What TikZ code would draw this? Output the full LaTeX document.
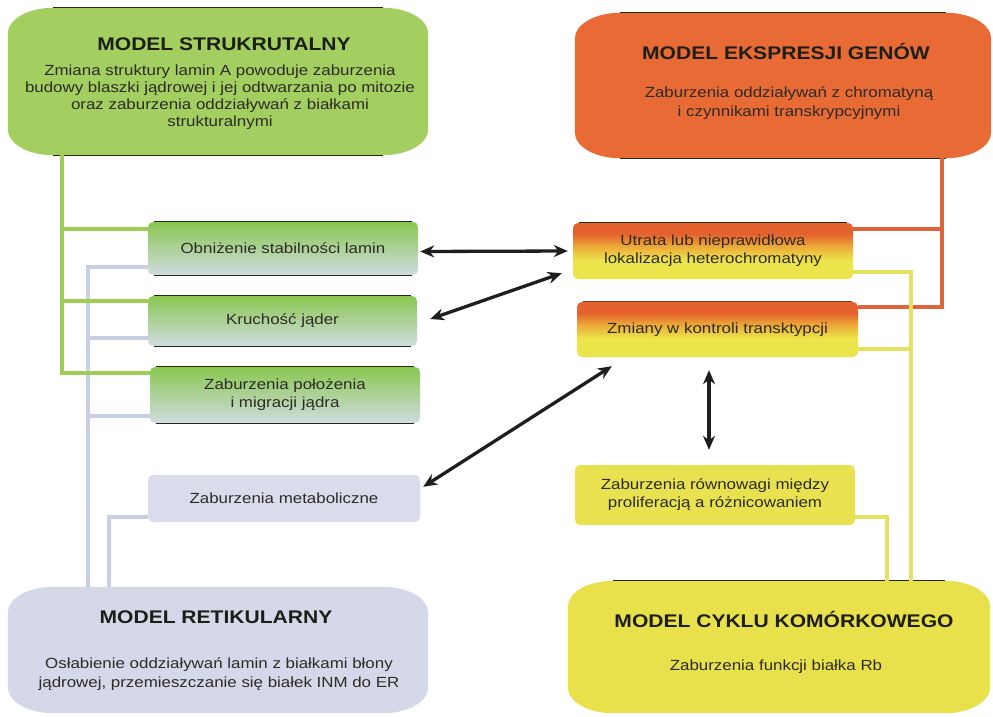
\documentclass[tikz,border=0pt]{standalone}
\usepackage{fontspec}
\setmainfont{Liberation Sans}[FakeStretch=1.15]
\usetikzlibrary{arrows.meta}

\definecolor{strC}{RGB}{163,206,96}
\definecolor{eksC}{RGB}{232,106,52}
\definecolor{retC}{RGB}{213,216,232}
\definecolor{cykC}{RGB}{232,225,75}
\definecolor{gTop}{RGB}{138,199,80}
\definecolor{gBot}{RGB}{208,220,224}
\definecolor{metC}{RGB}{218,220,236}
\definecolor{rowC}{RGB}{232,225,80}
\definecolor{orgC}{RGB}{228,98,45}
\definecolor{midC}{RGB}{236,165,55}
\definecolor{ylwC}{RGB}{236,228,75}
\definecolor{glineC}{RGB}{158,206,84}
\definecolor{rlineC}{RGB}{202,206,226}
\definecolor{olineC}{RGB}{224,100,55}
\definecolor{ylineC}{RGB}{230,225,95}
\definecolor{arrC}{RGB}{30,30,30}
\definecolor{txtC}{RGB}{45,43,38}
\definecolor{ttlC}{RGB}{30,30,25}
\definecolor{edgeC}{RGB}{40,40,25}

\pgfdeclareverticalshading{oyshade}{100bp}{color(0bp)=(ylwC); color(42bp)=(ylwC); color(55bp)=(midC); color(65bp)=(orgC); color(100bp)=(orgC)}

\newcommand{\bodyf}{\fontsize{14.7pt}{18pt}\selectfont}
\newcommand{\titlef}{\fontsize{18.3pt}{22pt}\selectfont\bfseries}
\newcommand{\ellbox}[2]{%
  \path[#2] ([xshift=45pt]#1.north west) -- ([xshift=-45pt]#1.north east)
    arc[start angle=90,end angle=0,x radius=45pt,y radius=26pt]
    -- ([yshift=26pt]#1.south east)
    arc[start angle=0,end angle=-90,x radius=45pt,y radius=26pt]
    -- ([xshift=45pt]#1.south west)
    arc[start angle=270,end angle=180,x radius=45pt,y radius=26pt]
    -- ([yshift=-26pt]#1.north west)
    arc[start angle=180,end angle=90,x radius=45pt,y radius=26pt] -- cycle;}

\begin{document}
\begin{tikzpicture}[x=1pt,y=-1pt,
  bigbox/.style={inner sep=0pt, draw=none},
  sbox/.style={rounded corners=5pt, inner sep=0pt, align=center, font=\bodyf, text=txtC},
  gbox/.style={sbox, top color=gTop, bottom color=gBot},
  obox/.style={sbox, shading=oyshade},
  txt/.style={inner sep=0pt, align=center, text=txtC},
  ttl/.style={inner sep=0pt, text=ttlC, font=\titlef},
  gline/.style={draw=glineC, line width=3.5pt},
  rline/.style={draw=rlineC, line width=3.5pt},
  oline/.style={draw=olineC, line width=3.5pt},
  yline/.style={draw=ylineC, line width=3.5pt},
  edgeline/.style={draw=edgeC, line width=1.3pt},
  arr/.style={draw=arrC, line width=3.3pt, {Stealth[length=14pt,width=12pt]}-{Stealth[length=14pt,width=12pt]}}
]
\useasboundingbox (0,0) rectangle (993,716);
\fill[white] (0,0) rectangle (993,716);

% big boxes
\node[bigbox, minimum width=420pt, minimum height=147pt] (str) at (218,81.5) {};
\node[bigbox, minimum width=416pt, minimum height=145pt] (eks) at (783,85.5) {};
\node[bigbox, minimum width=420pt, minimum height=126pt] (ret) at (218,650) {};
\node[bigbox, minimum width=422pt, minimum height=132pt] (cyk) at (779,647) {};
\ellbox{str}{fill=strC}
\ellbox{eks}{fill=eksC}
\ellbox{ret}{fill=retC}
\ellbox{cyk}{fill=cykC}
\draw[edgeline] ([xshift=45pt]str.north west) -- ([xshift=-45pt]str.north east);
\draw[edgeline] ([xshift=45pt]str.south west) -- ([xshift=-45pt]str.south east);
\draw[edgeline] ([xshift=45pt]eks.north west) -- ([xshift=-45pt]eks.north east);
\draw[edgeline] ([xshift=45pt]eks.south west) -- ([xshift=-45pt]eks.south east);
\draw[edgeline] ([xshift=45pt]cyk.north west) -- ([xshift=-45pt]cyk.north east);

% small boxes
\node[gbox, minimum width=270pt, minimum height=53pt] (obn) at (283,248.5) {Obniżenie stabilności lamin};
\node[gbox, minimum width=269pt, minimum height=50pt] (kru) at (282.5,321) {Kruchość jąder};
\node[gbox, minimum width=270pt, minimum height=56pt] (pol) at (285,395) {Zaburzenia położenia\\i migracji jądra};
\node[sbox, fill=metC, minimum width=272pt, minimum height=47pt] (met) at (284,498.5) {Zaburzenia metaboliczne};
\node[obox, minimum width=280pt, minimum height=56pt] (utr) at (713,251) {Utrata lub nieprawidłowa\\lokalizacja heterochromatyny};
\node[obox, minimum width=281pt, minimum height=55pt] (zmi) at (717.5,329.5) {Zmiany w kontroli transktypcji};
\node[sbox, fill=rowC, minimum width=280pt, minimum height=60pt] (row) at (715,495) {Zaburzenia równowagi między\\proliferacją a różnicowaniem};
\foreach \n in {obn,kru,pol}{
  \draw[edgeline] ([xshift=6pt]\n.north west) -- ([xshift=-6pt]\n.north east);
  \draw[edgeline] ([xshift=6pt]\n.south west) -- ([xshift=-6pt]\n.south east);
}
\draw[edgeline] ([xshift=6pt]utr.north west) -- ([xshift=-6pt]utr.north east);
\draw[edgeline, draw=edgeC!60!orgC] ([xshift=6pt]zmi.north west) -- ([xshift=-6pt]zmi.north east);

% helper coordinates
\coordinate (gx) at (62,0);
\coordinate (rx1) at (88,0);
\coordinate (rx2) at (109,0);
\coordinate (ox) at (942,0);
\coordinate (yx1) at (911,0);
\coordinate (yx2) at (887,0);
\coordinate (obnG) at ([yshift=-7pt]obn.north west);
\coordinate (kruG) at ([yshift=-5pt]kru.north west);
\coordinate (polG) at ([yshift=-6pt]pol.north west);
\coordinate (obnR) at ([yshift=8pt]obn.south west);
\coordinate (kruR) at ([yshift=8pt]kru.south west);
\coordinate (polR) at ([yshift=7pt]pol.south west);
\coordinate (metR) at ([yshift=5pt]met.south west);
\coordinate (utrO) at ([yshift=-6pt]utr.north east);
\coordinate (zmiO) at ([yshift=-5pt]zmi.north east);
\coordinate (utrY) at ([yshift=7pt]utr.south east);
\coordinate (zmiY) at ([yshift=8pt]zmi.south east);
\coordinate (rowY) at ([yshift=8pt]row.south east);

% grey (reticular) connectors
\draw[rline] (obnR) -| (ret.north -| rx1);
\draw[rline] (kruR) -- (kruR -| rx1);
\draw[rline] (polR) -- (polR -| rx1);
\draw[rline] (metR) -| (ret.north -| rx2);
% green (structural) connectors
\draw[gline] (str.south -| gx) |- (polG);
\draw[gline] (obnG) -- (obnG -| gx);
\draw[gline] (kruG) -- (kruG -| gx);
% orange (gene expression) connectors
\draw[oline] (eks.south -| ox) |- (zmiO);
\draw[oline] (utrO) -- (utrO -| ox);
% yellow (cell cycle) connectors
\draw[yline] (utrY) -| (cyk.north -| yx1);
\draw[yline] (zmiY) -- (zmiY -| yx1);
\draw[yline] (rowY) -| (cyk.north -| yx2);

% black double arrows
\coordinate (a1s) at ([xshift=2pt,yshift=-3pt]obn.east);
\coordinate (a1e) at ([xshift=-5pt]utr.west);
\coordinate (a2s) at ([xshift=13pt,yshift=2pt]kru.east);
\coordinate (a2e) at ([xshift=-11pt,yshift=6pt]utr.south west);
\coordinate (a3s) at ([xshift=3pt,yshift=-12pt]met.north east);
\coordinate (a3e) at ([xshift=35pt,yshift=-9pt]zmi.south west);
\coordinate (a4s) at ([xshift=-8.5pt,yshift=-13pt]zmi.south);
\coordinate (a4e) at ([xshift=-6pt,yshift=15pt]row.north);
\draw[arr] (a1s) -- (a1e);
\draw[arr] (a2s) -- (a2e);
\draw[arr] (a3s) -- (a3e);
\draw[arr] (a4s) -- (a4e);

% texts of the big boxes
\node[ttl, anchor=base] (strT) at (224,50) {MODEL STRUKRUTALNY};
\node[txt, anchor=north, font=\fontsize{14.7pt}{17pt}\selectfont] (strB) at (220,61)
  {\rule{0pt}{14pt}Zmiana struktury lamin A powoduje zaburzenia\\budowy blaszki jądrowej i jej odtwarzania po mitozie\\oraz zaburzenia oddziaływań z białkami\\strukturalnymi};
\node[ttl, anchor=base] (eksT) at (786,59) {MODEL EKSPRESJI GENÓW};
\node[txt, anchor=north, font=\fontsize{14.7pt}{19pt}\selectfont] (eksB) at (789,83)
  {\rule{0pt}{14pt}Zaburzenia oddziaływań z chromatyną\\i czynnikami transkrypcyjnymi};
\node[ttl, anchor=base] (retT) at (216,623) {MODEL RETIKULARNY};
\node[txt, anchor=north, font=\fontsize{14.7pt}{19pt}\selectfont] (retB) at (219,654)
  {\rule{0pt}{14pt}Osłabienie oddziaływań lamin z białkami błony\\jądrowej, przemieszczanie się białek INM do ER};
\node[ttl, anchor=base] (cykT) at (784,627) {MODEL CYKLU KOMÓRKOWEGO};
\node[txt, anchor=base, font=\bodyf] (cykB) at (776,670) {Zaburzenia funkcji białka Rb};
\end{tikzpicture}
\end{document}
